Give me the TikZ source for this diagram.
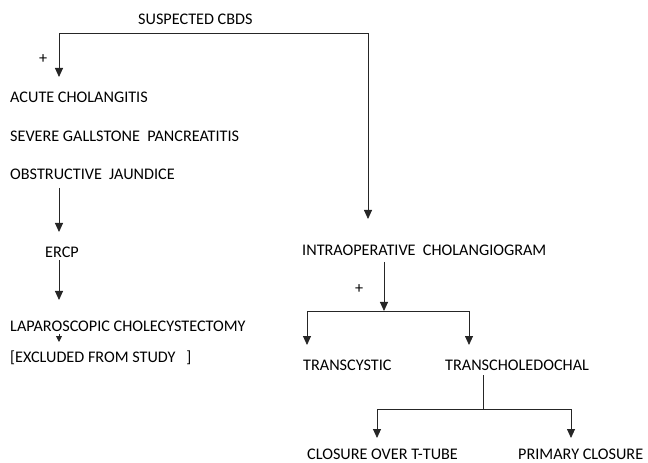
\documentclass[tikz,border=0pt]{standalone}
\usepackage{fontspec}
\setmainfont{Carlito}
\usetikzlibrary{arrows.meta}
\tikzset{
  lbl/.style={anchor=base west, inner sep=0pt, font=\fontsize{16.2bp}{19bp}\selectfont, text=black},
  arr/.style={-{Triangle[length=9bp,width=8bp]}, line width=0.9bp, draw=black!85},
  smallarr/.style={-{Triangle[length=6bp,width=6bp]}, line width=0.9bp, draw=black!85},
  ln/.style={line width=0.9bp, draw=black!85}
}
\begin{document}
\begin{tikzpicture}[x=1bp,y=-1bp]
\useasboundingbox (0,0) rectangle (648,463);
% texts
\node[lbl] (cbds) at (138,25) {SUSPECTED CBDS};
\node[lbl] (plus1) at (39,64) {+};
\node[lbl] (acute) at (10,103) {ACUTE CHOLANGITIS};
\node[lbl] (severe) at (10,141.7) {SEVERE GALLSTONE\ \ PANCREATITIS};
\node[lbl] (obstr) at (10,180) {OBSTRUCTIVE\ \ JAUNDICE};
\node[lbl] (ercp) at (45,257.7) {ERCP};
\node[lbl] (lap) at (10,331.7) {LAPAROSCOPIC CHOLECYSTECTOMY};
\node[lbl] (excl) at (10,362.7) {[EXCLUDED FROM STUDY\ \ \ ]};
\node[lbl] (ioc) at (302,256) {INTRAOPERATIVE\ \ CHOLANGIOGRAM};
\node[lbl] (plus2) at (355,294) {+};
\node[lbl] (tcy) at (303,370) {TRANSCYSTIC};
\node[lbl] (tch) at (445,370) {TRANSCHOLEDOCHAL};
\node[lbl, text depth=0pt] (ttube) at (307,459.5) {CLOSURE OVER T-TUBE};
\node[lbl, text depth=0pt] (prim) at (518,459.5) {PRIMARY CLOSURE};
% junction coordinates
\coordinate (jl) at (59,33.5);
\coordinate (jr) at (368,33.5);
\coordinate (tl) at (59,77);
\coordinate (tr) at (368,219);
\coordinate (o1) at (59,188);
\coordinate (e1) at (59,232);
\coordinate (o2) at (59,260);
\coordinate (e2) at (59,300);
\coordinate (o3) at (59,334);
\coordinate (e3) at (59,342);
\coordinate (i1) at (384,262);
\coordinate (i2) at (384,311);
\coordinate (hl) at (307,311);
\coordinate (hr) at (469,311);
\coordinate (tcyt) at (307,345);
\coordinate (tcht) at (469,345);
\coordinate (c1) at (483,375);
\coordinate (c2) at (483,409);
\coordinate (cl) at (377,409);
\coordinate (cr) at (571,409);
\coordinate (ttt) at (377,438);
\coordinate (prt) at (571,438);
% connectors
\draw[arr] (jl) -- (tl);
\draw[arr] (jl) -- (jr) -- (tr);
\draw[arr] (o1) -- (e1);
\draw[arr] (o2) -- (e2);
\draw[smallarr] (o3) -- (e3);
\draw[arr] (i1) -- (i2);
\draw[arr] (i2) -- (hl) -- (tcyt);
\draw[arr] (i2) -- (hr) -- (tcht);
\draw[ln] (c1) -- (c2);
\draw[arr] (c2) -- (cl) -- (ttt);
\draw[arr] (c2) -- (cr) -- (prt);
\end{tikzpicture}
\end{document}
